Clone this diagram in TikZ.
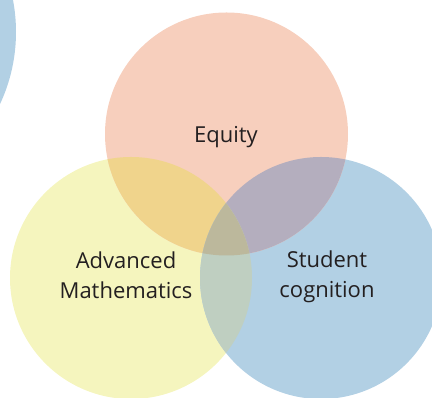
\documentclass[tikz,border=0pt]{standalone}
\usepackage{fontspec}
\setmainfont{Open Sans}
\definecolor{cPink}{HTML}{F7CFBD}
\definecolor{cYel}{HTML}{F5F5BE}
\definecolor{cBlue}{HTML}{B2D0E4}
\definecolor{cYP}{HTML}{F0D48C}
\definecolor{cPB}{HTML}{B4AEBE}
\definecolor{cYB}{HTML}{BFCFC1}
\definecolor{cAll}{HTML}{BCB89C}
\definecolor{cText}{HTML}{231F20}
\tikzset{lbl/.style={text=cText, font=\fontsize{22}{30}\selectfont, align=center, inner sep=0pt}}
\begin{document}
\begin{tikzpicture}[x=1pt,y=1pt]
\useasboundingbox (0,0) rectangle (432,398);
\clip (0,0) rectangle (432,398);
\def\Ecirc{(226.5,264) circle[radius=121.5]}
\def\Acirc{(131,120) circle[radius=121]}
\def\Scirc{(321,120) circle[radius=121]}
% partial circle at top left
\fill[cBlue] (-154,366) circle[radius=170];
% base circles
\fill[cYel] \Acirc;
\fill[cBlue] \Scirc;
\fill[cPink] \Ecirc;
% pairwise overlaps
\begin{scope}\clip \Acirc; \fill[cYP] \Ecirc; \end{scope}
\begin{scope}\clip \Scirc; \fill[cPB] \Ecirc; \end{scope}
\begin{scope}\clip \Acirc; \fill[cYB] \Scirc; \end{scope}
\begin{scope}\clip \Acirc; \clip \Scirc; \fill[cAll] \Ecirc; \end{scope}
% labels
\node[lbl] (eq) at (226,261) {Equity};
\node[lbl] (am) at (126,123) {Advanced\\Mathematics};
\node[lbl] (sc) at (327,121) {Student\\cognition};
\end{tikzpicture}
\end{document}
